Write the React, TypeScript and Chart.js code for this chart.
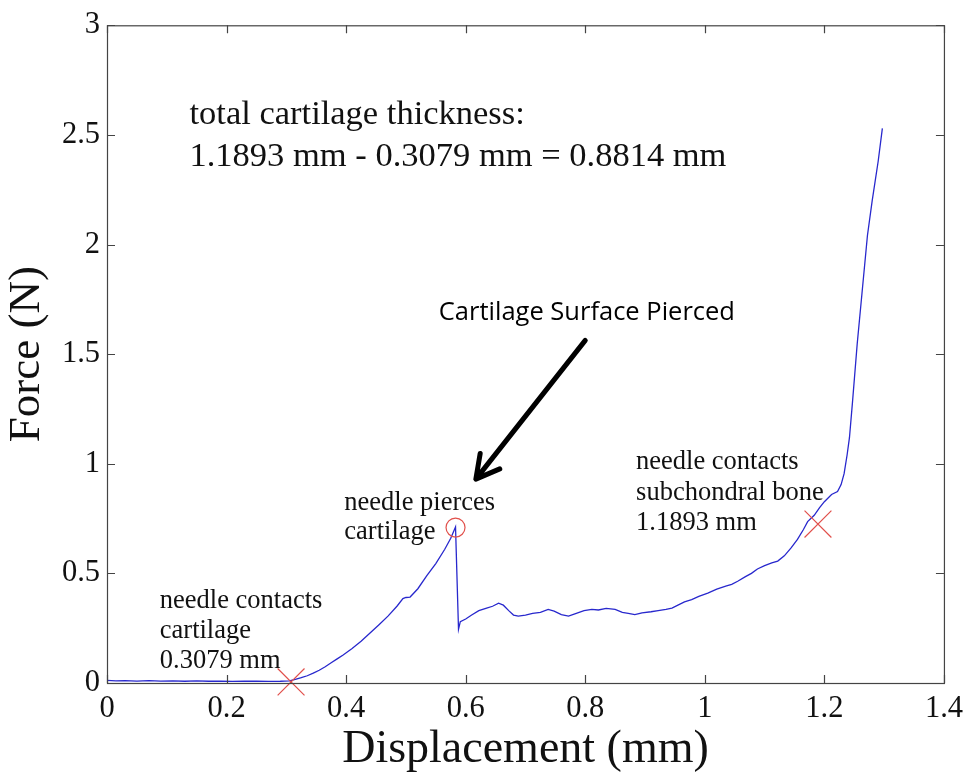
import React, { useEffect, useRef } from "react";
import { Chart, registerables } from "chart.js";
Chart.register(...registerables);

// Displacement (mm) of the needle
const displacement = [
  0, 0.015, 0.03, 0.05, 0.07, 0.09, 0.11, 0.13, 0.15, 0.17, 0.19, 0.21, 0.23, 0.25, 0.27, 0.29,
  0.305, 0.315, 0.325, 0.335, 0.345, 0.355, 0.365, 0.375, 0.385, 0.395, 0.41, 0.425, 0.44, 0.455,
  0.47, 0.485, 0.495, 0.5, 0.507, 0.52, 0.535, 0.55, 0.565, 0.575, 0.583, 0.588, 0.591, 0.6, 0.61,
  0.622, 0.635, 0.645, 0.655, 0.663, 0.672, 0.68, 0.688, 0.7, 0.712, 0.725, 0.738, 0.748, 0.76,
  0.772, 0.785, 0.798, 0.811, 0.822, 0.835, 0.85, 0.862, 0.872, 0.883, 0.895, 0.91, 0.922, 0.935,
  0.945, 0.955, 0.966, 0.978, 0.99, 1.005, 1.02, 1.035, 1.045, 1.055, 1.068, 1.078, 1.088, 1.1,
  1.112, 1.122, 1.133, 1.144, 1.155, 1.165, 1.172, 1.183, 1.192, 1.2, 1.212, 1.222, 1.228, 1.233,
  1.238, 1.242, 1.247, 1.255, 1.263, 1.272, 1.28, 1.29, 1.297,
];

// Force (N)
const force = [
  0.012, 0.01, 0.011, 0.009, 0.011, 0.009, 0.01, 0.008, 0.01, 0.008, 0.009, 0.007, 0.009, 0.008, 0.007, 0.008,
  0.01, 0.016, 0.024, 0.033, 0.045, 0.058, 0.074, 0.092, 0.11, 0.128, 0.157, 0.19, 0.228, 0.266,
  0.305, 0.35, 0.385, 0.39, 0.392, 0.43, 0.49, 0.545, 0.61, 0.66, 0.712, 0.245, 0.28, 0.292, 0.31,
  0.33, 0.342, 0.35, 0.364, 0.355, 0.33, 0.31, 0.305, 0.31, 0.318, 0.322, 0.336, 0.328, 0.312,
  0.305, 0.318, 0.33, 0.336, 0.333, 0.34, 0.336, 0.322, 0.318, 0.312, 0.32, 0.325, 0.33, 0.336,
  0.342, 0.355, 0.37, 0.38, 0.395, 0.41, 0.428, 0.442, 0.45, 0.464, 0.485, 0.5, 0.52, 0.535,
  0.548, 0.556, 0.58, 0.615, 0.655, 0.7, 0.736, 0.765, 0.8, 0.827, 0.86, 0.873, 0.905, 0.955,
  1.04, 1.12, 1.28, 1.55, 1.78, 2.04, 2.2, 2.38, 2.53,
];

// Contact markers (x) and pierce marker (o)
const contactX = [0.3079, 1.1893];
const contactY = [0.005, 0.725];
const pierceX = [0.583];
const pierceY = [0.709];

const xTickStep = 0.2;
const yTickStep = 0.5;

const SERIF = '"Liberation Serif", "Times New Roman", serif';
const TEXT = "#111111";

const fmt = (v: any) => String(Number(Number(v).toFixed(2)));

const overlay = {
  id: "overlay",
  afterDraw(chart: any) {
    const { ctx, chartArea: a, scales } = chart;
    const x = scales.x;
    const y = scales.y;
    ctx.save();
    // frame
    ctx.strokeStyle = "#444444";
    ctx.lineWidth = 1.2;
    ctx.strokeRect(a.left + 0.5, a.top + 0.5, a.right - a.left, a.bottom - a.top);
    // inner ticks
    const tl = 8;
    ctx.beginPath();
    x.ticks.forEach((t: any) => {
      const px = Math.round(x.getPixelForValue(t.value)) + 0.5;
      ctx.moveTo(px, a.bottom);
      ctx.lineTo(px, a.bottom - tl);
      ctx.moveTo(px, a.top);
      ctx.lineTo(px, a.top + tl);
    });
    y.ticks.forEach((t: any) => {
      const py = Math.round(y.getPixelForValue(t.value)) + 0.5;
      ctx.moveTo(a.left, py);
      ctx.lineTo(a.left + tl, py);
      ctx.moveTo(a.right, py);
      ctx.lineTo(a.right - tl, py);
    });
    ctx.stroke();

    // annotations
    ctx.fillStyle = TEXT;
    ctx.textAlign = "left";
    ctx.textBaseline = "alphabetic";
    const lines = (arr: string[], vx: number, vy: number, lh: number) => {
      const px = x.getPixelForValue(vx);
      const py = y.getPixelForValue(vy);
      arr.forEach((s, i) => ctx.fillText(s, px, py + i * lh));
    };
    ctx.font = `34.5px ${SERIF}`;
    lines(["total cartilage thickness:", "1.1893 mm - 0.3079 mm = 0.8814 mm"], 0.138, 2.551, 42);
    ctx.font = `26.5px ${SERIF}`;
    lines(["needle contacts", "cartilage", "0.3079 mm"], 0.0883, 0.34, 30);
    lines(["needle pierces", "cartilage"], 0.397, 0.789, 29);
    lines(["needle contacts", "subchondral bone", "1.1893 mm"], 0.885, 0.974, 30.5);

    ctx.font = `25.5px "Open Sans", "DejaVu Sans", sans-serif`;
    ctx.fillStyle = "#000";
    lines(["Cartilage Surface Pierced"], 0.555, 1.654, 0);

    // arrow
    const x1 = x.getPixelForValue(0.8);
    const y1 = y.getPixelForValue(1.563);
    const x2 = x.getPixelForValue(0.617);
    const y2 = y.getPixelForValue(0.93);
    const ang = Math.atan2(y1 - y2, x1 - x2);
    ctx.strokeStyle = "#000";
    ctx.lineWidth = 5;
    ctx.lineCap = "round";
    ctx.lineJoin = "round";
    ctx.beginPath();
    ctx.moveTo(x1, y1);
    ctx.lineTo(x2, y2);
    const hl = 26;
    const spread = 0.5;
    ctx.moveTo(x2 + hl * Math.cos(ang + spread), y2 + hl * Math.sin(ang + spread));
    ctx.lineTo(x2, y2);
    ctx.lineTo(x2 + hl * Math.cos(ang - spread), y2 + hl * Math.sin(ang - spread));
    ctx.stroke();
    ctx.restore();
  },
};

export default function App() {
  const ref = useRef<HTMLCanvasElement | null>(null);
  useEffect(() => {
    if (!ref.current) return;
    const chart = new Chart(ref.current, {
      type: "scatter",
      data: {
        datasets: [
          {
            label: "Force",
            data: displacement.map((d, i) => ({ x: d, y: force[i] })),
            showLine: true,
            borderColor: "rgb(40,40,205)",
            borderWidth: 1.3,
            pointRadius: 0,
            tension: 0,
            order: 2,
          },
          {
            label: "Contact",
            data: contactX.map((d, i) => ({ x: d, y: contactY[i] })),
            showLine: false,
            pointStyle: "crossRot",
            pointRadius: 19,
            borderColor: "rgb(225,80,75)",
            borderWidth: 1.2,
            backgroundColor: "rgba(0,0,0,0)",
            clip: false,
            order: 1,
          },
          {
            label: "Pierce",
            data: pierceX.map((d, i) => ({ x: d, y: pierceY[i] })),
            showLine: false,
            pointStyle: "circle",
            pointRadius: 9.5,
            borderColor: "rgb(225,80,75)",
            borderWidth: 1.2,
            backgroundColor: "rgba(0,0,0,0)",
            clip: false,
            order: 1,
          },
        ],
      },
      options: {
        animation: false,
        responsive: false,
        layout: { padding: { left: 0, top: 21, right: 24, bottom: 0 } },
        plugins: { legend: { display: false }, tooltip: { enabled: false } },
        scales: {
          x: {
            type: "linear",
            min: 0,
            max: 1.4,
            ticks: {
              stepSize: xTickStep,
              font: { family: SERIF, size: 30.5 },
              color: TEXT,
              padding: 8,
              maxRotation: 0,
              autoSkip: false,
              callback: (v: any) => fmt(v),
            },
            grid: { display: false, drawTicks: false },
            border: { display: false },
            title: {
              display: true,
              text: "Displacement (mm)",
              font: { family: SERIF, size: 46, lineHeight: 1 },
              color: TEXT,
              padding: { top: 0, bottom: 7 },
            },
            afterFit: (s: any) => {
              s.height = 97;
            },
          },
          y: {
            type: "linear",
            min: 0,
            max: 3,
            ticks: {
              stepSize: yTickStep,
              font: { family: SERIF, size: 30.5 },
              color: TEXT,
              padding: 7,
              callback: (v: any) => fmt(v),
            },
            grid: { display: false, drawTicks: false },
            border: { display: false },
            title: {
              display: true,
              text: "Force (N)",
              font: { family: SERIF, size: 45, lineHeight: 1 },
              color: TEXT,
              padding: { top: 5, bottom: 0 },
            },
            afterFit: (s: any) => {
              s.width = 107;
            },
          },
        },
      },
      plugins: [overlay],
    });
    return () => chart.destroy();
  }, []);
  return (
    <div style={{ position: "fixed", left: 0, top: 0, width: 971, height: 780, background: "#fff" }}>
      <canvas ref={ref} width={971} height={780} style={{ display: "block" }} />
    </div>
  );
}
